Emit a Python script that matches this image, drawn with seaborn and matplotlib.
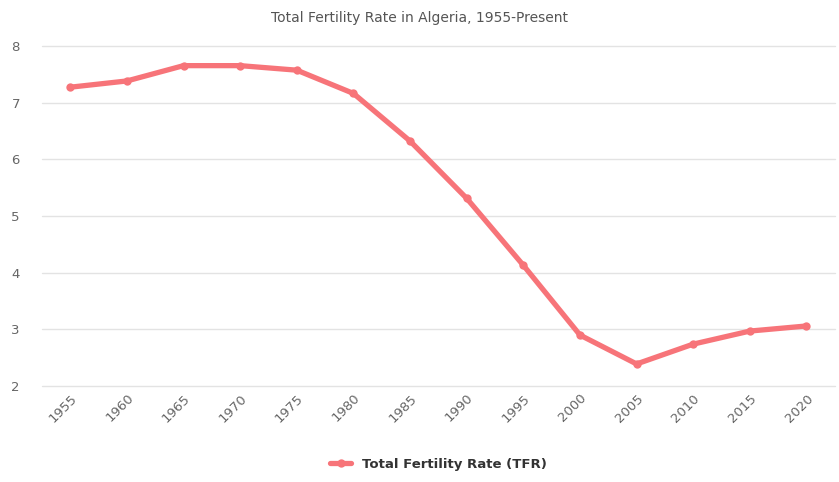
import matplotlib
matplotlib.use('Agg')
import matplotlib.pyplot as plt
import seaborn as sns
import pandas as pd

# Dados
anos = ['1955', '1960', '1965', '1970', '1975', '1980', '1985',
        '1990', '1995', '2000', '2005', '2010', '2015', '2020']
tfr = [7.27, 7.38, 7.65, 7.65, 7.57, 7.16, 6.32,
       5.31, 4.13, 2.90, 2.39, 2.74, 2.97, 3.06]

df = pd.DataFrame({'ano': anos, 'tfr': tfr})

sns.set_theme(style='white')
plt.rcParams['font.family'] = ['DejaVu Sans']

cor = '#F77479'
cinza = '#666666'

fig = plt.figure(figsize=(8.39, 4.82), dpi=100)
ax = fig.add_axes([0.05, 0.199, 0.945, 0.706])

sns.lineplot(data=df, x='ano', y='tfr', ax=ax, color=cor, linewidth=3.8,
             marker='o', markersize=6, markeredgewidth=0,
             label='Total Fertility Rate (TFR)', sort=False)

ax.set_xlim(-0.5, len(anos) - 0.5)
ax.set_ylim(2, 8)
ax.set_yticks([2, 3, 4, 5, 6, 7, 8])
ax.yaxis.grid(True, color='#e3e3e3', linewidth=1)
ax.xaxis.grid(False)
for g in ax.get_ygridlines():
    g.set_clip_on(False)
for s in ax.spines.values():
    s.set_visible(False)

ax.set_xlabel('')
ax.set_ylabel('')
ax.tick_params(axis='y', colors=cinza, labelsize=9.5, length=0, pad=22)
ax.tick_params(axis='x', colors=cinza, labelsize=9.5, length=0, pad=4)
for lab in ax.get_yticklabels():
    lab.set_horizontalalignment('left')
plt.setp(ax.get_xticklabels(), rotation=45, ha='right', rotation_mode='anchor')

fig.text(0.5, 0.962, 'Total Fertility Rate in Algeria, 1955-Present',
         ha='center', va='center', fontsize=10, color='#555555')

ax.legend(loc='upper center', bbox_to_anchor=(0.5, -0.175), frameon=False,
          prop={'size': 9.5, 'weight': 'bold'}, handlelength=1.6,
          labelcolor='#333333')

plt.savefig('out.png', dpi=100, facecolor='white')
plt.close()
